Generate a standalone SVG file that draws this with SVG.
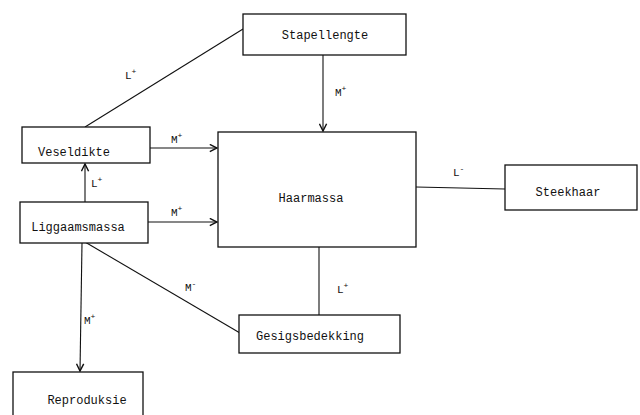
<svg xmlns="http://www.w3.org/2000/svg" width="640" height="415" viewBox="0 0 640 415">
<style>
.box{fill:#fff;stroke:#111;stroke-width:1.3}
.t{font-family:"Liberation Mono","DejaVu Sans Mono",monospace;font-size:12px;fill:#111;text-anchor:middle}
.lb{font-family:"Liberation Mono","DejaVu Sans Mono",monospace;font-size:11px;fill:#111}
.sup{font-size:8px}
.c{fill:none;stroke:#111;stroke-width:1.1}
</style>
<defs>
<marker id="ah" viewBox="0 0 10 10" refX="9" refY="5" markerWidth="9" markerHeight="9" markerUnits="userSpaceOnUse" orient="auto">
<polyline points="1,1 9,5 1,9" fill="none" stroke="#111" stroke-width="1.6"/>
</marker>
</defs>
<rect width="640" height="415" fill="#fff"/>
<g id="connectors">
<line class="c" x1="323" y1="55" x2="323" y2="131" marker-end="url(#ah)"/>
<line class="c" x1="150" y1="148" x2="217" y2="148" marker-end="url(#ah)"/>
<line class="c" x1="148" y1="222" x2="217" y2="222" marker-end="url(#ah)"/>
<line class="c" x1="85" y1="202" x2="85" y2="164" marker-end="url(#ah)"/>
<line class="c" x1="85" y1="127" x2="243" y2="29"/>
<line class="c" x1="416" y1="187" x2="505" y2="189"/>
<line class="c" x1="319" y1="247" x2="319" y2="315"/>
<line class="c" x1="85" y1="242" x2="240" y2="333"/>
<line class="c" x1="82" y1="243" x2="80" y2="371" marker-end="url(#ah)"/>
<text class="lb" x="335" y="96">M<tspan class="sup" dy="-5">+</tspan></text>
<text class="lb" x="171" y="143">M<tspan class="sup" dy="-5">+</tspan></text>
<text class="lb" x="171" y="216">M<tspan class="sup" dy="-5">+</tspan></text>
<text class="lb" x="91" y="187">L<tspan class="sup" dy="-5">+</tspan></text>
<text class="lb" x="125" y="79">L<tspan class="sup" dy="-5">+</tspan></text>
<text class="lb" x="453" y="176">L<tspan class="sup" dy="-5">-</tspan></text>
<text class="lb" x="337" y="293">L<tspan class="sup" dy="-5">+</tspan></text>
<text class="lb" x="185" y="291">M<tspan class="sup" dy="-5">-</tspan></text>
<text class="lb" x="84" y="324">M<tspan class="sup" dy="-5">+</tspan></text>
</g>
<g id="stapellengte"><rect class="box" x="243" y="14" width="163" height="41"/><text class="t" x="325" y="39">Stapellengte</text></g>
<g id="haarmassa"><rect class="box" x="218" y="132" width="198" height="115"/><text class="t" x="311" y="202">Haarmassa</text></g>
<g id="steekhaar"><rect class="box" x="505" y="165" width="132" height="45"/><text class="t" x="568" y="196">Steekhaar</text></g>
<g id="veseldikte"><rect class="box" x="22" y="127" width="128" height="36"/><text class="t" x="74" y="156">Veseldikte</text></g>
<g id="liggaamsmassa"><rect class="box" x="20" y="202" width="128" height="41"/><text class="t" x="78" y="231">Liggaamsmassa</text></g>
<g id="gesigsbedekking"><rect class="box" x="239" y="315" width="161" height="38"/><text class="t" x="310" y="340">Gesigsbedekking</text></g>
<g id="reproduksie"><rect class="box" x="13" y="372" width="130" height="45"/><text class="t" x="87" y="404">Reproduksie</text></g>
</svg>
